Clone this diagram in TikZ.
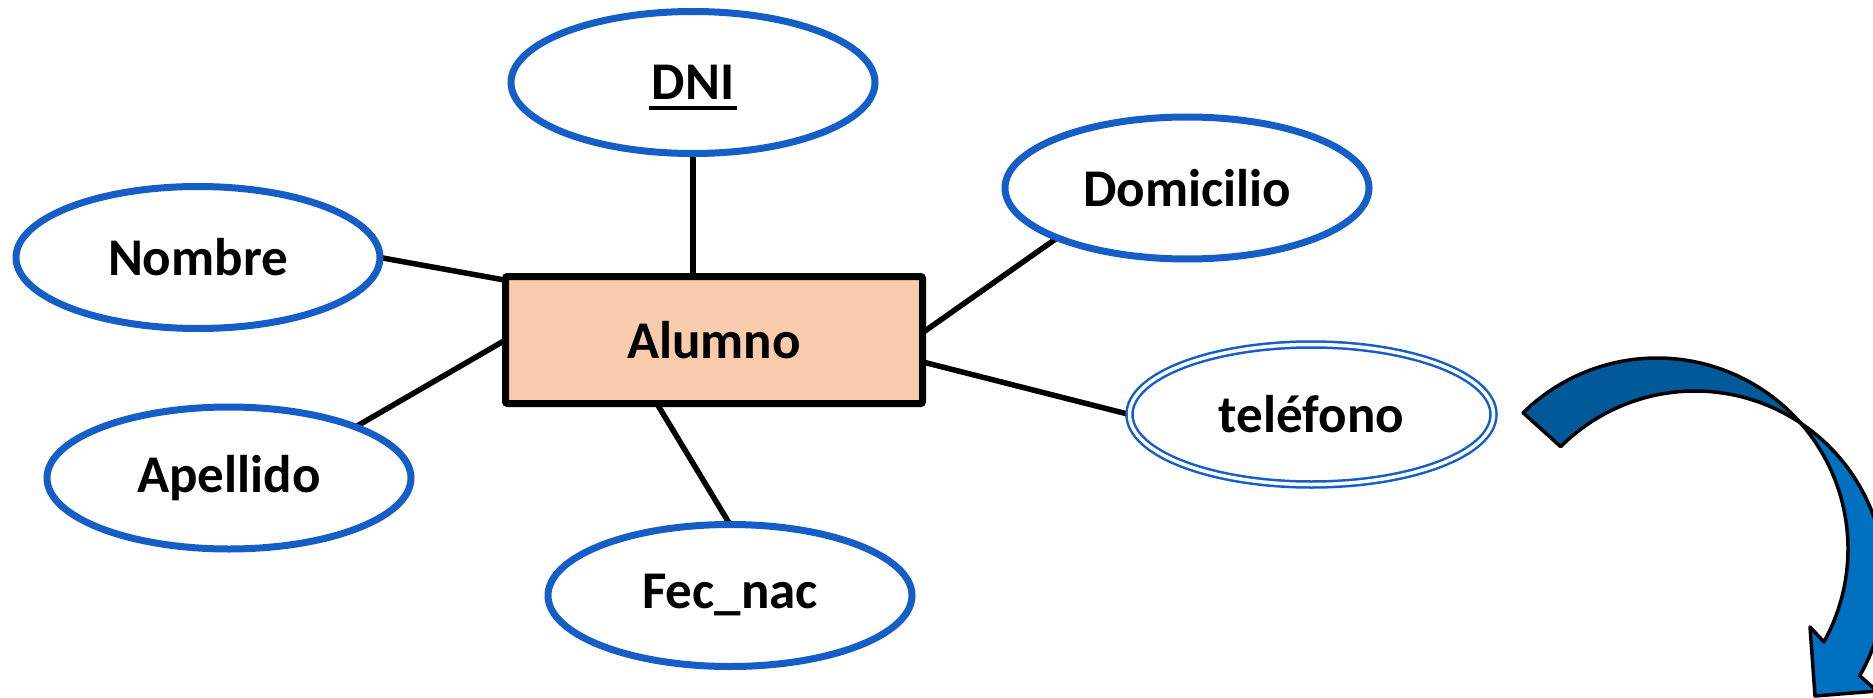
\documentclass[tikz,border=0pt]{standalone}
\usepackage{fontspec}
\setmainfont{Carlito}
\usetikzlibrary{shapes.geometric,calc}
\pgfdeclarelayer{bg}
\pgfdeclarelayer{background}
\pgfsetlayers{bg,background,main}
\definecolor{attrblue}{RGB}{21,94,200}
\definecolor{entfill}{RGB}{248,203,173}
\definecolor{arrowdark}{RGB}{2,89,154}
\definecolor{arrowlight}{RGB}{0,112,192}
\newcommand\dniline[1]{\setbox0=\hbox{#1}\rlap{\kern-2.5pt\smash{\rule[-10pt]{\dimexpr\wd0+5pt\relax}{3.5pt}}}\box0}
\begin{document}
\begin{tikzpicture}[x=1pt,y=-1pt,
  attr/.style={ellipse, draw=attrblue, line width=7pt, minimum width=364pt, minimum height=142pt,
    inner sep=0pt, outer sep=0pt, fill=white, font=\fontsize{53}{60}\selectfont\bfseries},
  multiattr/.style={attr, line width=2.5pt, double=white, double distance=3.5pt,
    minimum width=364pt, minimum height=140pt},
  entity/.style={rectangle, draw=black, fill=entfill, line width=7pt, minimum width=417pt,
    minimum height=127pt, rounded corners=2pt, inner sep=0pt, outer sep=0pt,
    font=\fontsize{53}{60}\selectfont\bfseries},
  link/.style={line width=5.5pt, draw=black},
  arrowpart/.style={draw=black, line width=3.5pt, line join=round}]
\useasboundingbox (0,0) rectangle (1873,698);
\begin{pgfonlayer}{bg}
  \fill[white] (0,0) rectangle (1873,698);
\end{pgfonlayer}

\node[attr] (DNI) at (693,82.5) {\dniline{DNI}};
\node[attr] (Dom) at (1187,188) {Domicilio};
\node[attr] (Nom) at (198,257.5) {Nombre};
\node[attr] (Ape) at (229,478) {Apellido};
\node[attr] (Fec) at (730,595.5) {Fec\_nac};
\node[multiattr] (Tel) at (1311.5,414.5) {teléfono};
\node[entity] (Alu) at (714,340) {Alumno};

\begin{pgfonlayer}{background}
  \draw[link] (DNI.south) -- (DNI.south |- Alu.north);
  \draw[link] (Nom.east) -- (Alu.164);
  \draw[link] (Ape.22) -- (Alu.west);
  \draw[link] (Fec.north) -- (Alu.228);
  \draw[link] (Dom.201) -- (Alu.2);
  \draw[link] (Tel.west) -- (Alu.-6);
\end{pgfonlayer}

\begin{scope}
  \clip (0,0) rectangle (1873,698);
  % back (dark) part of the curved arrow: band between two offset circles
  \path[fill=arrowdark, arrowpart]
    plot[domain=225.5:318.7, samples=60, variable=\t] ({1657+191*cos(\t)}, {549+191*sin(\t)})
    -- plot[domain=303.7:225, samples=60, variable=\t] ({1695+190*cos(\t)}, {581+190*sin(\t)})
    -- cycle;
  % front (light) part with arrowhead
  \path[fill=arrowlight, arrowpart]
    plot[domain=318.7:389.1, samples=60, variable=\t] ({1657+191*cos(\t)}, {549+191*sin(\t)})
    -- (1810,627) -- (1815,696) -- (1877,691) -- (1860,676)
    -- plot[domain=389.9:303.7, samples=60, variable=\t] ({1695+190*cos(\t)}, {581+190*sin(\t)})
    -- cycle;
\end{scope}
\end{tikzpicture}
\end{document}
